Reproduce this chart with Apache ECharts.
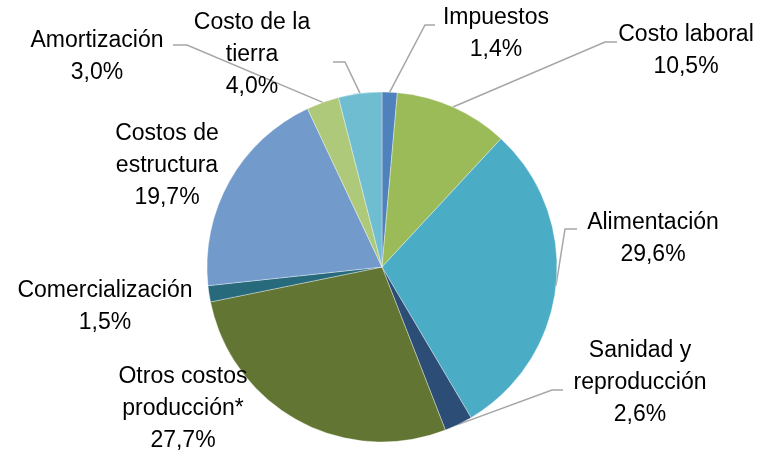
<!DOCTYPE html>
<html>
<head>
<meta charset="utf-8">
<script src="https://cdn.jsdelivr.net/npm/echarts@6/dist/echarts.min.js"></script>
<style>html,body{margin:0;padding:0;background:#fff;}#chart{width:763px;height:451px;}</style>
</head>
<body>
<div id="chart"></div>
<script>
var categories = ['Impuestos', 'Costo laboral', 'Alimentación', 'Sanidad y\nreproducción', 'Otros costos\nproducción*', 'Comercialización', 'Costos de\nestructura', 'Amortización', 'Costo de la\ntierra'];
var values = [1.4, 10.5, 29.6, 2.6, 27.7, 1.5, 19.7, 3.0, 4.0];
var colors = ['#4F81BD', '#9BBB59', '#4BACC6', '#2C4D75', '#627532', '#276A7C', '#729ACA', '#AFC97A', '#6FBDD1'];

// label placement (center of label block) and leader line elbow/end
var labelPos = [
  {x: 496, y: 34, elbow: [425, 25], end: [435, 25]},
  {x: 686, y: 51, elbow: [605, 42], end: [617, 42]},
  {x: 653, y: 239, elbow: [565, 229], end: [577, 229]},
  {x: 640, y: 383, elbow: [552, 390], end: [563, 390]},
  {x: 183, y: 409, elbow: null},
  {x: 105, y: 307, elbow: null},
  {x: 167, y: 166, elbow: null},
  {x: 97, y: 57, elbow: [187, 45], end: [173, 45]},
  {x: 252, y: 55, elbow: [345, 62], end: [333, 62]}
];

var data = categories.map(function (c, i) {
  return {
    name: c,
    value: values[i],
    itemStyle: {color: colors[i]},
    labelLine: {show: !!labelPos[i].elbow}
  };
});

var chart = echarts.init(document.getElementById('chart'), null, {renderer: 'canvas'});
chart.setOption({
  animation: false,
  backgroundColor: '#fff',
  series: [{
    type: 'pie',
    center: [382, 267],
    radius: [0, 175],
    startAngle: 90,
    clockwise: true,
    avoidLabelOverlap: false,
    data: data,
    itemStyle: {borderColor: 'rgba(255,255,255,0.6)', borderWidth: 0.6},
    label: {
      show: true,
      position: 'outside',
      fontFamily: 'Liberation Sans',
      fontSize: 23,
      lineHeight: 32,
      color: '#000',
      align: 'center',
      formatter: function (p) {
        return p.name + '\n' + p.value.toFixed(1).replace('.', ',') + '%';
      }
    },
    labelLine: {
      show: true,
      lineStyle: {color: '#A6A6A6', width: 1.5}
    },
    labelLayout: function (params) {
      var lp = labelPos[params.dataIndex];
      var res = {x: lp.x, y: lp.y, align: 'center', verticalAlign: 'middle'};
      if (lp.elbow && params.labelLinePoints) {
        res.labelLinePoints = [params.labelLinePoints[0], lp.elbow, lp.end];
      }
      return res;
    }
  }]
});
</script>
</body>
</html>
